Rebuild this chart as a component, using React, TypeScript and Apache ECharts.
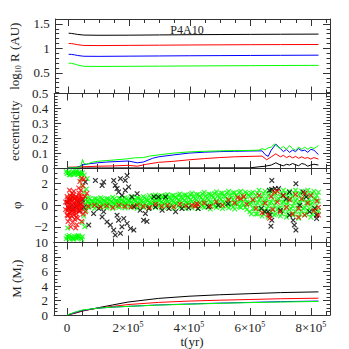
import React, { useEffect, useRef } from "react";
import * as echarts from "echarts";

// ---------- axis ticks / labels ----------
const X_MIN = -43000;
const X_MAX = 863000;
const xMajorTicks = [0, 2e5, 4e5, 6e5, 8e5];
const xMinorTicks = [5e4, 1e5, 1.5e5, 2.5e5, 3e5, 3.5e5, 4.5e5, 5e5, 5.5e5, 6.5e5, 7e5, 7.5e5, 8.5e5];

const rLabels = [0.5, 1, 1.5];
const rMinor = [0.1, 0.2, 0.3, 0.4, 0.6, 0.7, 0.8, 0.9, 1.1, 1.2, 1.3, 1.4];
const eLabels = [0, 0.1, 0.2, 0.3, 0.4, 0.5];
const eMinor = [0.02, 0.04, 0.06, 0.08, 0.12, 0.14, 0.16, 0.18, 0.22, 0.24, 0.26, 0.28, 0.32, 0.34, 0.36, 0.38, 0.42, 0.44, 0.46, 0.48];
const pLabels = [-2, 0, 2];
const pMinor = [-3, -2.5, -1.5, -1, -0.5, 0.5, 1, 1.5, 2.5, 3];
const mLabels = [0, 2, 4, 6, 8, 10];
const mMinor = [0.5, 1, 1.5, 2.5, 3, 3.5, 4.5, 5, 5.5, 6.5, 7, 7.5, 8.5, 9, 9.5];

// ---------- panel 1: log10 R ----------
const tR = [0, 1e4, 2e4, 3e4, 5e4, 1e5, 2e5, 3e5, 4e5, 5e5, 6e5, 7e5, 8.25e5];
const rBlack = [1.31, 1.305, 1.295, 1.285, 1.272, 1.268, 1.27, 1.275, 1.28, 1.283, 1.286, 1.289, 1.292];
const rRed = [1.10, 1.097, 1.088, 1.075, 1.06, 1.058, 1.062, 1.066, 1.07, 1.073, 1.076, 1.078, 1.08];
const rBlue = [0.88, 0.877, 0.868, 0.855, 0.84, 0.838, 0.842, 0.846, 0.85, 0.853, 0.856, 0.859, 0.862];
const rGreen = [0.70, 0.695, 0.68, 0.66, 0.635, 0.632, 0.635, 0.638, 0.642, 0.645, 0.648, 0.651, 0.654];

// ---------- panel 2: eccentricity ----------
const eGreen = [[0, 0], [3e4, 0.002], [4.5e4, 0.01], [5e4, 0.057], [5.5e4, 0.03], [6.5e4, 0.025], [8e4, 0.038], [1e5, 0.045], [1.3e5, 0.05], [1.6e5, 0.055], [2e5, 0.062], [2.2e5, 0.068], [2.5e5, 0.07], [2.7e5, 0.08], [3e5, 0.088], [3.5e5, 0.1], [4e5, 0.108], [4.5e5, 0.112], [5e5, 0.115], [5.5e5, 0.117], [6e5, 0.118], [6.3e5, 0.12], [6.4e5, 0.13], [6.5e5, 0.122], [6.6e5, 0.135], [6.7e5, 0.14], [6.8e5, 0.16], [6.9e5, 0.145], [7e5, 0.13], [7.1e5, 0.145], [7.2e5, 0.125], [7.3e5, 0.15], [7.4e5, 0.13], [7.5e5, 0.12], [7.6e5, 0.14], [7.7e5, 0.125], [7.8e5, 0.14], [7.9e5, 0.125], [8e5, 0.14], [8.1e5, 0.13], [8.25e5, 0.15]];
const eBlue = [[0, 0], [3e4, 0.002], [5e4, 0.02], [7e4, 0.028], [1e5, 0.035], [1.3e5, 0.04], [1.6e5, 0.043], [2e5, 0.047], [2.3e5, 0.035], [2.5e5, 0.04], [2.8e5, 0.065], [3e5, 0.075], [3.5e5, 0.088], [4e5, 0.1], [4.5e5, 0.106], [5e5, 0.11], [5.5e5, 0.112], [6e5, 0.114], [6.4e5, 0.115], [6.5e5, 0.09], [6.6e5, 0.078], [6.7e5, 0.12], [6.85e5, 0.16], [7e5, 0.13], [7.1e5, 0.11], [7.2e5, 0.125], [7.3e5, 0.105], [7.4e5, 0.12], [7.5e5, 0.11], [7.6e5, 0.13], [7.7e5, 0.115], [7.8e5, 0.12], [7.9e5, 0.105], [8e5, 0.125], [8.1e5, 0.12], [8.2e5, 0.1], [8.25e5, 0.09]];
const eRed = [[0, 0.005], [5e4, 0.008], [1e5, 0.012], [1.5e5, 0.014], [2e5, 0.018], [2.3e5, 0.012], [2.6e5, 0.025], [3e5, 0.038], [3.5e5, 0.045], [4e5, 0.055], [4.5e5, 0.063], [5e5, 0.07], [5.5e5, 0.075], [6e5, 0.078], [6.4e5, 0.08], [6.55e5, 0.055], [6.7e5, 0.075], [6.85e5, 0.095], [7e5, 0.075], [7.1e5, 0.085], [7.2e5, 0.07], [7.3e5, 0.08], [7.4e5, 0.068], [7.5e5, 0.078], [7.6e5, 0.065], [7.7e5, 0.075], [7.8e5, 0.065], [7.9e5, 0.07], [8e5, 0.06], [8.1e5, 0.07], [8.25e5, 0.06]];
const eBlack = [[0, 0], [6e5, 0.001], [6.3e5, 0.008], [6.5e5, 0.012], [6.7e5, 0.02], [6.85e5, 0.035], [7e5, 0.02], [7.1e5, 0.015], [7.2e5, 0.025], [7.3e5, 0.02], [7.4e5, 0.03], [7.5e5, 0.022], [7.6e5, 0.015], [7.7e5, 0.03], [7.8e5, 0.025], [7.9e5, 0.012], [8e5, 0.02], [8.1e5, 0.025], [8.25e5, 0.02]];

// ---------- panel 3: phi (scatter) ----------
const phiGreen = [
  [0, 2.95], [5e3, 3.05], [1e4, 2.9], [1.2e4, 2.85], [1.5e4, 3.0], [2e4, 3.1], [2.5e4, 2.95], [2.8e4, 3.1], [3e4, 3.0], [3.5e4, 2.9], [3.8e4, 2.85], [4e4, 3.05], [4.5e4, 2.95], [5e4, 3.0],
  [-3e3, 3.1], [7e3, 2.8], [2.2e4, 2.85], [3.3e4, 3.15], [4.7e4, 2.8],
  [0, -2.9], [5e3, -3.0], [1e4, -3.1], [1.5e4, -2.95], [1.8e4, -3.1], [2e4, -3.0], [2.5e4, -2.9], [3e4, -3.05], [3.2e4, -2.85], [3.5e4, -3.0], [4e4, -2.95], [4.5e4, -3.05], [5e4, -2.9], [2e3, -2.1], [1e4, 0.77],
  [-3e3, -3.1], [7e3, -2.8], [2.2e4, -3.15], [3.7e4, -2.8], [4.8e4, -3.15],
  [4.5e4, 2.4], [5e4, 1.8], [5.5e4, 1.2], [5.2e4, 0.6], [4.8e4, -0.3], [5.5e4, -1.0], [5e4, -1.6], [5.8e4, -2.0], [6e4, 0.8], [6.2e4, -0.5], [4.2e4, 0.2], [5.6e4, 2.8], [6.6e4, 2.46], [6.3e4, 1.5],
  [6e4, 0.1], [6e4, 0.5], [7e4, -0.2], [7e4, 0.3], [7e4, 0.7], [8e4, 0.0], [8e4, 0.4], [9e4, -0.3], [9e4, 0.2], [9e4, 0.6],
  [1e5, 0.1], [1e5, 0.5], [1.1e5, -0.2], [1.1e5, 0.3], [1.1e5, 0.7], [1.2e5, 0.0], [1.2e5, 0.45], [1.3e5, -0.25], [1.3e5, 0.2], [1.3e5, 0.6],
  [1.4e5, 0.05], [1.4e5, 0.5], [1.5e5, -0.3], [1.5e5, 0.25], [1.5e5, 0.75], [1.6e5, 0.0], [1.6e5, 0.4], [1.7e5, -0.2], [1.7e5, 0.3], [1.7e5, 0.65],
  [1.8e5, 0.1], [1.8e5, 0.5], [1.9e5, -0.25], [1.9e5, 0.2], [1.9e5, 0.7], [2e5, 0.05], [2e5, 0.45], [2.1e5, -0.2], [2.1e5, 0.3], [2.1e5, 0.8],
  [2.2e5, 0.0], [2.2e5, 0.5], [2.3e5, -0.3], [2.3e5, 0.2], [2.3e5, 0.7], [2.4e5, 0.1], [2.4e5, 0.55], [2.5e5, -0.2], [2.5e5, 0.3], [2.5e5, 0.8],
  [2.6e5, 0.0], [2.6e5, 0.5], [2.7e5, -0.25], [2.7e5, 0.25], [2.7e5, 0.9], [2.8e5, 0.1], [2.8e5, 0.6], [2.9e5, -0.2], [2.9e5, 0.35], [2.9e5, 0.95],
  [3e5, 0.05], [3e5, 0.5], [3.1e5, -0.25], [3.1e5, 0.3], [3.1e5, 0.9], [3.2e5, 0.1], [3.2e5, 0.6], [3.3e5, -0.2], [3.3e5, 0.35], [3.3e5, 1.0],
  [3.4e5, 0.05], [3.4e5, 0.55], [3.5e5, -0.3], [3.5e5, 0.3], [3.5e5, 0.9], [3.6e5, 0.1], [3.6e5, 0.65], [3.7e5, -0.2], [3.7e5, 0.4], [3.7e5, 1.05],
  [3.8e5, 0.0], [3.8e5, 0.6], [3.9e5, -0.3], [3.9e5, 0.3], [3.9e5, 0.95], [4e5, 0.15], [4e5, 0.7], [4.1e5, -0.25], [4.1e5, 0.35], [4.1e5, 1.1],
  [4.2e5, 0.05], [4.2e5, 0.6], [4.3e5, -0.3], [4.3e5, 0.3], [4.3e5, 1.0], [4.4e5, 0.1], [4.4e5, 0.7], [4.5e5, -0.2], [4.5e5, 0.4], [4.5e5, 1.2],
  [4.6e5, 0.0], [4.6e5, 0.65], [4.7e5, -0.35], [4.7e5, 0.3], [4.7e5, 1.0], [4.8e5, 0.1], [4.8e5, 0.75], [4.9e5, -0.2], [4.9e5, 0.4], [4.9e5, 1.25],
  [5e5, 0.0], [5e5, 0.7], [5.1e5, -0.3], [5.1e5, 0.35], [5.1e5, 1.1], [5.2e5, 0.15], [5.2e5, 0.8], [5.3e5, -0.25], [5.3e5, 0.45], [5.3e5, 1.3],
  [5.4e5, 0.0], [5.4e5, 0.7], [5.5e5, -0.35], [5.5e5, 0.3], [5.5e5, 1.15], [5.6e5, 0.1], [5.6e5, 0.8], [5.7e5, -0.2], [5.7e5, 0.45], [5.7e5, 1.3],
  [5.8e5, 0.0], [5.8e5, 0.75], [5.9e5, -0.4], [5.9e5, 0.3], [5.9e5, 1.1], [6e5, 0.1], [6e5, 0.8], [6e5, -0.6],
  [6.1e5, -0.3], [6.1e5, 0.4], [6.1e5, 1.2], [6.2e5, -0.8], [6.2e5, 0.0], [6.2e5, 0.9], [6.3e5, -0.4], [6.3e5, 0.5], [6.3e5, 1.4],
  [6.4e5, -1.0], [6.4e5, 0.1], [6.4e5, 0.8], [6.5e5, -0.5], [6.5e5, 0.4], [6.5e5, 1.3], [6.6e5, -1.1], [6.6e5, -0.1], [6.6e5, 0.9],
  [6.7e5, -0.6], [6.7e5, 0.3], [6.7e5, 1.4], [6.8e5, -0.9], [6.8e5, 0.0], [6.8e5, 1.0], [6.9e5, -0.4], [6.9e5, 0.5], [6.9e5, 1.3],
  [7e5, -1.0], [7e5, -0.2], [7e5, 0.8], [7.1e5, -0.6], [7.1e5, 0.3], [7.1e5, 1.4], [7.2e5, -1.1], [7.2e5, 0.1], [7.2e5, 1.0],
  [7.3e5, -0.4], [7.3e5, 0.6], [7.3e5, 1.3], [7.4e5, -0.9], [7.4e5, -0.1], [7.4e5, 0.8], [7.5e5, -0.6], [7.5e5, 0.4], [7.5e5, 1.4],
  [7.6e5, -1.2], [7.6e5, 0.0], [7.6e5, 1.0], [7.7e5, -0.5], [7.7e5, 0.5], [7.7e5, 1.3], [7.8e5, -0.9], [7.8e5, -0.2], [7.8e5, 0.9],
  [7.9e5, -0.5], [7.9e5, 0.3], [7.9e5, 1.4], [8e5, -1.1], [8e5, 0.1], [8e5, 1.0], [8.1e5, -0.4], [8.1e5, 0.6], [8.1e5, 1.3],
  [8.2e5, -0.8], [8.2e5, 0.0], [8.2e5, 0.9], [8.25e5, -0.5], [8.25e5, 0.4], [8.25e5, 1.2],
  // half steps
  [6.5e4, -0.1], [6.5e4, 0.35], [7.5e4, 0.15], [7.5e4, 0.6], [8.5e4, -0.1], [8.5e4, 0.35], [9.5e4, 0.15], [9.5e4, 0.6],
  [1.05e5, -0.1], [1.05e5, 0.35], [1.15e5, 0.15], [1.15e5, 0.6], [1.25e5, -0.1], [1.25e5, 0.35], [1.35e5, 0.15], [1.35e5, 0.6],
  [1.45e5, -0.1], [1.45e5, 0.35], [1.55e5, 0.15], [1.55e5, 0.6], [1.65e5, -0.1], [1.65e5, 0.35], [1.75e5, 0.15], [1.75e5, 0.6],
  [1.85e5, -0.1], [1.85e5, 0.35], [1.95e5, 0.15], [1.95e5, 0.6], [2.05e5, -0.1], [2.05e5, 0.4], [2.15e5, 0.15], [2.15e5, 0.65],
  [2.25e5, -0.1], [2.25e5, 0.4], [2.35e5, 0.15], [2.35e5, 0.65], [2.45e5, -0.1], [2.45e5, 0.4], [2.55e5, 0.15], [2.55e5, 0.7],
  [2.65e5, -0.1], [2.65e5, 0.45], [2.75e5, 0.2], [2.75e5, 0.7], [2.85e5, -0.05], [2.85e5, 0.45], [2.85e5, 0.85], [2.95e5, 0.2], [2.95e5, 0.7],
  [3.05e5, -0.05], [3.05e5, 0.45], [3.05e5, 0.85], [3.15e5, 0.2], [3.15e5, 0.75], [3.25e5, -0.05], [3.25e5, 0.45], [3.25e5, 0.9],
  [3.35e5, 0.2], [3.35e5, 0.75], [3.45e5, -0.05], [3.45e5, 0.45], [3.45e5, 0.9], [3.55e5, 0.2], [3.55e5, 0.75], [3.65e5, -0.05], [3.65e5, 0.45], [3.65e5, 0.95],
  [3.75e5, 0.2], [3.75e5, 0.8], [3.85e5, -0.05], [3.85e5, 0.45], [3.85e5, 0.95], [3.95e5, 0.2], [3.95e5, 0.8], [4.05e5, -0.05], [4.05e5, 0.5], [4.05e5, 1.0],
  [4.15e5, 0.2], [4.15e5, 0.8], [4.25e5, -0.05], [4.25e5, 0.5], [4.25e5, 1.0], [4.35e5, 0.2], [4.35e5, 0.85], [4.45e5, -0.1], [4.45e5, 0.5], [4.45e5, 1.05],
  [4.55e5, 0.2], [4.55e5, 0.85], [4.65e5, -0.1], [4.65e5, 0.5], [4.65e5, 1.05], [4.75e5, 0.2], [4.75e5, 0.9], [4.85e5, -0.1], [4.85e5, 0.55], [4.85e5, 1.1],
  [4.95e5, 0.2], [4.95e5, 0.9], [5.05e5, -0.1], [5.05e5, 0.55], [5.05e5, 1.1], [5.15e5, 0.2], [5.15e5, 0.9], [5.25e5, -0.1], [5.25e5, 0.55], [5.25e5, 1.15],
  [5.35e5, 0.2], [5.35e5, 0.95], [5.45e5, -0.15], [5.45e5, 0.55], [5.45e5, 1.15], [5.55e5, 0.2], [5.55e5, 0.95], [5.65e5, -0.15], [5.65e5, 0.55], [5.65e5, 1.2],
  [5.75e5, 0.2], [5.75e5, 0.95], [5.85e5, -0.2], [5.85e5, 0.55], [5.85e5, 1.2], [5.95e5, 0.2], [5.95e5, 0.95],
  [6.05e5, -0.8], [6.05e5, 0.2], [6.05e5, 1.1], [6.15e5, -0.3], [6.15e5, 0.6], [6.25e5, -0.8], [6.25e5, 0.2], [6.25e5, 1.1], [6.35e5, -0.3], [6.35e5, 0.6],
  [6.45e5, -0.8], [6.45e5, 0.2], [6.45e5, 1.1], [6.55e5, -0.3], [6.55e5, 0.6], [6.65e5, -0.8], [6.65e5, 0.2], [6.65e5, 1.1], [6.75e5, -0.3], [6.75e5, 0.6],
  [6.85e5, -0.8], [6.85e5, 0.2], [6.85e5, 1.1], [6.95e5, -0.3], [6.95e5, 0.6], [7.05e5, -0.8], [7.05e5, 0.2], [7.05e5, 1.1], [7.15e5, -0.3], [7.15e5, 0.6],
  [7.25e5, -0.8], [7.25e5, 0.2], [7.25e5, 1.1], [7.35e5, -0.3], [7.35e5, 0.6], [7.45e5, -0.8], [7.45e5, 0.2], [7.45e5, 1.1], [7.55e5, -0.3], [7.55e5, 0.6],
  [7.65e5, -0.8], [7.65e5, 0.2], [7.65e5, 1.1], [7.75e5, -0.3], [7.75e5, 0.6], [7.85e5, -0.8], [7.85e5, 0.2], [7.85e5, 1.1], [7.95e5, -0.3], [7.95e5, 0.6],
  [8.05e5, -0.8], [8.05e5, 0.2], [8.05e5, 1.1], [8.15e5, -0.3], [8.15e5, 0.6]
];
const phiRed = [
  [0, 0.8], [0, 0.2], [0, -0.5], [5e3, 0.5], [5e3, -0.2], [5e3, -0.9], [1e4, 0.9], [1e4, 0.1], [1e4, -0.6], [1.5e4, 0.4], [1.5e4, -0.3], [1.5e4, -1.0],
  [2e4, 0.7], [2e4, 0.0], [2e4, -0.7], [2.5e4, 0.3], [2.5e4, -0.4], [3e4, 0.8], [3e4, 0.1], [3e4, -0.8], [3.5e4, 0.5], [3.5e4, -0.2], [4e4, 0.9], [4e4, 0.0], [4e4, -0.6],
  [4.5e4, 0.4], [4.5e4, -0.3], [5e4, 0.6], [5e4, -0.1],
  [-5e3, 0.3], [-5e3, -0.4], [2.5e3, 0.6], [2.5e3, -0.1], [7.5e3, 0.3], [7.5e3, -0.7], [1.25e4, 0.6], [1.25e4, -0.3], [1.75e4, 0.8], [1.75e4, -0.5],
  [2.25e4, 0.2], [2.25e4, -0.9], [2.75e4, 0.6], [2.75e4, -0.2], [3.25e4, 0.4], [3.25e4, -0.5], [3.75e4, 0.7], [3.75e4, 0.0], [4.25e4, 0.5], [4.25e4, -0.4],
  [4.75e4, 0.8], [4.75e4, 0.0], [0, -0.9], [1e4, -1.2], [2e4, 1.0], [3e4, -1.1], [4e4, 1.1],
  [3e3, -1.5], [1.2e4, -2.0], [1.8e4, -1.6], [2.5e4, -1.3], [3.2e4, -1.8], [8e3, 1.4], [3.8e4, 1.6], [4.2e4, 2.2], [4.8e4, 2.5], [5.2e4, 1.8], [5.5e4, 2.4],
  [4.5e4, 1.4], [3.5e4, -1.2], [2.2e4, 1.3], [5.8e4, 0.8], [6.5e4, 1.1], [6e4, -0.6], [2e3, -1.0], [1.6e4, 1.1], [2.8e4, -2.1], [4.8e4, -1.5], [5.3e4, -0.8],
  [7e4, -0.1], [9e4, 0.0], [1.1e5, -0.15], [1.3e5, -0.05], [1.5e5, -0.2], [1.7e5, 0.0], [1.9e5, -0.1], [2.1e5, -0.15], [2.3e5, 0.0], [2.5e5, -0.1],
  [2.7e5, -0.2], [2.9e5, 0.1], [3.1e5, -0.1], [3.3e5, 0.0], [3.5e5, -0.15], [3.7e5, 0.1], [3.9e5, -0.05], [4.1e5, 0.0], [4.2e5, -0.1], [4.25e5, 0.15],
  [4.3e5, 0.05], [4.5e5, 0.2], [4.7e5, -0.1], [4.9e5, 0.3], [5.1e5, 0.0], [5.3e5, 0.5], [5.5e5, 0.2], [5.6e5, 0.7], [5.7e5, 0.6], [5.9e5, 0.1], [5.8e5, 0.8],
  [6.1e5, 0.5], [6.2e5, -0.3], [6.3e5, 0.9], [6.4e5, -0.7], [6.5e5, 0.2], [6.6e5, -0.9], [6.7e5, 0.8], [6.75e5, -0.4], [6.8e5, 1.2], [6.9e5, 0.3],
  [7e5, -0.6], [7.1e5, 0.9], [7.2e5, -0.2], [7.3e5, 0.5], [7.4e5, -0.8], [7.5e5, 1.0], [7.6e5, -0.3], [7.7e5, 0.6], [7.8e5, -0.9], [7.9e5, 0.2],
  [8e5, 0.9], [8.1e5, -0.5], [8.2e5, 0.4], [8.25e5, -0.2], [6.65e5, -1.2], [7.6e5, -1.1], [8.25e5, -0.9], [6.9e5, 1.3], [7.8e5, 1.1]
];
const phiBlack = [
  [0, 0.3], [5e3, -0.3], [1e4, 0.5], [1.5e4, 0.0], [2e4, -0.4], [2.5e4, 0.6], [3e4, -0.1], [3.5e4, 0.3], [4e4, -0.5], [4.5e4, 0.1], [5e4, 0.5], [5.5e4, -0.2],
  [6e4, 2.15], [9.3e4, 2.3], [1.15e5, 1.84], [1.2e5, 2.15], [1.53e5, 2.3], [1.58e5, 1.84], [1.64e5, 1.54], [1.69e5, 1.23], [1.8e5, 0.92], [1.75e5, 2.46],
  [1.91e5, 2.3], [1.97e5, 2.76], [2.02e5, 1.69], [1.91e5, 1.38], [1.2e5, -0.6], [1.15e5, -1.08], [1.31e5, -1.54], [1.42e5, -1.84], [1.53e5, -2.3],
  [1.58e5, -2.76], [1.75e5, -2.6], [1.8e5, -2.0], [1.69e5, -1.38], [1.64e5, -0.92], [1.86e5, -1.23], [1.97e5, -1.69], [2.08e5, -2.15], [2.19e5, -2.3],
  [2.51e5, -1.38], [2.57e5, -0.77], [2.4e5, -0.46], [1.04e5, -0.31], [8.7e4, -0.77], [7.1e4, -1.84], [2.19e5, -0.15], [2.3e5, 1.07], [2.13e5, 0.77],
  [2.68e5, -0.31], [2.9e5, -0.15], [3.12e5, -0.46], [3.34e5, -0.31], [3.56e5, -0.6], [3.77e5, -0.31], [3.99e5, -0.25], [4.3e5, -0.31], [4.64e5, -0.15],
  [4.96e5, 0.0], [5.28e5, 0.15], [3.0e5, 0.77], [2.85e5, 0.77], [3.23e5, 0.77], [2.62e5, -1.5],
  [6.72e5, 2.3], [6.64e5, 1.38], [6.72e5, 1.47], [6.83e5, 1.54], [6.94e5, 1.54], [6.66e5, -0.92], [6.72e5, -1.38], [6.69e5, -1.94], [6.6e5, -0.6],
  [7.51e5, 2.0], [7.42e5, -1.38], [7.46e5, -1.84], [7.51e5, -2.3], [7.3e5, -0.92], [7.75e5, 1.23], [7.85e5, 0.77], [8.13e5, -0.3], [8.19e5, -0.92],
  [8.19e5, -1.23], [7.96e5, -0.6], [7.2e5, 0.6], [7.3e5, 1.2], [6.38e5, -0.3], [6.49e5, -0.6], [7.0e5, -0.46], [7.64e5, 0.0], [7.09e5, 0.9]
];

// ---------- panel 4: mass ----------
const tM = [0, 2.5e4, 5e4, 1e5, 1.5e5, 2e5, 3e5, 4e5, 5e5, 6e5, 7e5, 8.25e5];
const mBlack = [0, 0.25, 0.55, 1.0, 1.4, 1.8, 2.3, 2.6, 2.8, 2.95, 3.1, 3.2];
const mRed = [0, 0.3, 0.6, 0.95, 1.2, 1.45, 1.75, 1.93, 2.05, 2.15, 2.25, 2.33];
const mBlue = [0, 0.35, 0.65, 0.95, 1.1, 1.2, 1.4, 1.53, 1.65, 1.75, 1.85, 1.93];
const mGreen = [0, 0.4, 0.7, 0.95, 1.1, 1.2, 1.38, 1.5, 1.62, 1.72, 1.8, 1.88];

const FONT = "Liberation Serif";
const AX = "#333";
const CROSS = "path://M0,1.5L1.5,0L5,3.5L8.5,0L10,1.5L6.5,5L10,8.5L8.5,10L5,6.5L1.5,10L0,8.5L3.5,5Z";

const GRID_TOP = [19, 93.5, 168, 242.5];
const GRID_H = 74.5;

function zip(t: number[], v: number[]) {
  return t.map((x, i) => [x, v[i]]);
}

function makeXAxes(gi: number, last: boolean) {
  const base = {
    gridIndex: gi, type: "value", min: X_MIN, max: X_MAX,
    splitLine: { show: false },
  };
  const line = { show: true, onZero: false, lineStyle: { color: AX, width: 1 } };
  const noLine = { show: false, onZero: false };
  const tick = (vals: number[], len: number) => ({ show: true, inside: true, length: len, customValues: vals, lineStyle: { color: AX, width: 1 } });
  const bottomMajor: any = {
    ...base, position: "bottom", axisLine: line, axisTick: tick(xMajorTicks, 7),
    axisLabel: last ? {
      show: true, customValues: xMajorTicks, margin: 5, color: "#222",
      formatter: (v: number) => (v === 0 ? "{a|0}" : `{a|${Math.round(v / 1e5)}×10}{s|5}`),
      rich: {
        a: { fontFamily: FONT, fontSize: 13, lineHeight: 15, color: "#222" },
        s: { fontFamily: FONT, fontSize: 8, lineHeight: 8, verticalAlign: "top", color: "#222" },
      },
    } : { show: false },
    name: last ? "t(yr)" : "", nameLocation: "middle", nameGap: 18,
    nameTextStyle: { fontFamily: FONT, fontSize: 13, color: "#222" },
  };
  const bottomMinor: any = { ...base, position: "bottom", axisLine: noLine, axisTick: tick(xMinorTicks, 4), axisLabel: { show: false } };
  const topMajor: any = { ...base, position: "top", axisLine: line, axisTick: tick(xMajorTicks, 7), axisLabel: { show: false } };
  const topMinor: any = { ...base, position: "top", axisLine: noLine, axisTick: tick(xMinorTicks, 4), axisLabel: { show: false } };
  return [bottomMajor, bottomMinor, topMajor, topMinor];
}

function makeYAxes(gi: number, min: number, max: number, labels: number[], minor: number[], name: string, rich: any) {
  const base = { gridIndex: gi, type: "value", min, max, splitLine: { show: false } };
  const line = { show: true, onZero: false, lineStyle: { color: AX, width: 1 } };
  const noLine = { show: false, onZero: false };
  const tick = (vals: number[], len: number) => ({ show: true, inside: true, length: len, customValues: vals, lineStyle: { color: AX, width: 1 } });
  const leftMajor: any = {
    ...base, position: "left", axisLine: line, axisTick: tick(labels, 7),
    axisLabel: {
      show: true, customValues: labels, margin: 6, color: "#222", fontFamily: FONT, fontSize: 13,
      formatter: (v: number) => String(v).replace("-", "−"),
    },
    name, nameLocation: "middle", nameGap: 25, nameRotate: 90,
    nameTextStyle: { fontFamily: FONT, fontSize: 13, color: "#222", rich },
  };
  const leftMinor: any = { ...base, position: "left", axisLine: noLine, axisTick: tick(minor, 3.5), axisLabel: { show: false } };
  const rightMajor: any = { ...base, position: "right", axisLine: line, axisTick: tick(labels, 7), axisLabel: { show: false } };
  const rightMinor: any = { ...base, position: "right", axisLine: noLine, axisTick: tick(minor, 3.5), axisLabel: { show: false } };
  return [leftMajor, leftMinor, rightMajor, rightMinor];
}

const richName = {
  a: { fontFamily: FONT, fontSize: 13, lineHeight: 16, color: "#222" },
  s: { fontFamily: FONT, fontSize: 8, lineHeight: 8, verticalAlign: "bottom", color: "#222" },
};

function lineSeries(gi: number, data: any[], color: string) {
  return {
    type: "line", xAxisIndex: gi * 4, yAxisIndex: gi * 4, data, showSymbol: false, symbol: "none",
    lineStyle: { color, width: 1 }, silent: true,
  };
}
function scatterSeries(gi: number, data: any[], color: string) {
  return {
    type: "scatter", xAxisIndex: gi * 4, yAxisIndex: gi * 4, data, symbol: CROSS, symbolSize: 5.5,
    itemStyle: { color }, silent: true,
  };
}

export default function App() {
  const ref = useRef<HTMLDivElement>(null);
  useEffect(() => {
    if (!ref.current) return;
    const chart = echarts.init(ref.current, undefined, { renderer: "svg" });
    const grids = GRID_TOP.map((top) => ({ left: 54, width: 276, top, height: GRID_H, containLabel: false }));
    const xAxis = [0, 1, 2, 3].flatMap((gi) => makeXAxes(gi, gi === 3));
    const yAxis = [
      ...makeYAxes(0, 0.08, 1.6, rLabels, rMinor, "{a|log}{s|10}{a| R (AU)}", richName),
      ...makeYAxes(1, 0, 0.5, eLabels, eMinor, "eccentricity", richName),
      ...makeYAxes(2, -3.45, 3.45, pLabels, pMinor, "φ", richName),
      ...makeYAxes(3, 0, 10, mLabels, mMinor, "{a|M (M}{s|J}{a|)}", richName),
    ];
    const series: any[] = [
      lineSeries(0, zip(tR, rBlack), "#000000"),
      lineSeries(0, zip(tR, rRed), "#ff0000"),
      lineSeries(0, zip(tR, rBlue), "#0000ff"),
      lineSeries(0, zip(tR, rGreen), "#00ff00"),
      lineSeries(1, eBlack, "#000000"),
      lineSeries(1, eRed, "#ff0000"),
      lineSeries(1, eBlue, "#0000ff"),
      lineSeries(1, eGreen, "#00ff00"),
      scatterSeries(2, phiGreen, "#00ff00"),
      scatterSeries(2, phiBlack, "#000000"),
      scatterSeries(2, phiRed, "#ff0000"),
      lineSeries(3, zip(tM, mBlack), "#000000"),
      lineSeries(3, zip(tM, mRed), "#ff0000"),
      lineSeries(3, zip(tM, mBlue), "#0000ff"),
      lineSeries(3, zip(tM, mGreen), "#00ff00"),
    ];
    chart.setOption({
      animation: false,
      backgroundColor: "#ffffff",
      title: {
        text: "P4A10", left: 182, top: 19, textAlign: "center",
        textStyle: { fontFamily: FONT, fontSize: 12, fontWeight: "normal", color: "#222" },
      },
      grid: grids,
      xAxis,
      yAxis,
      series,
    });
    return () => chart.dispose();
  }, []);
  return <div ref={ref} style={{ width: 349, height: 349, position: "absolute", left: 0, top: 0 }} />;
}
